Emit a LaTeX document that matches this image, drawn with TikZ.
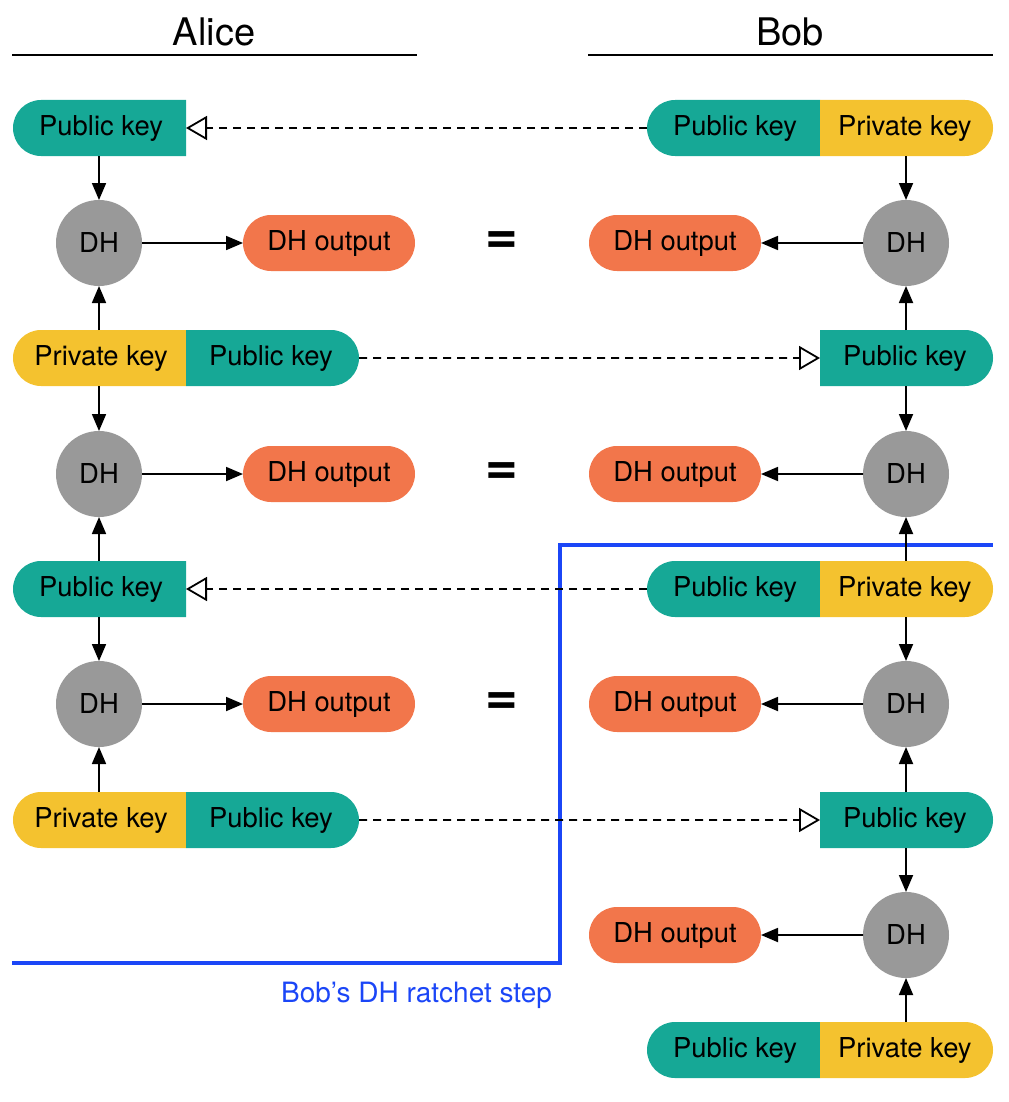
\documentclass[tikz,border=0pt]{standalone}
\usepackage{fontspec}
\setmainfont{TeX Gyre Heros}
\usetikzlibrary{shapes.misc,arrows.meta}
\definecolor{keyteal}{HTML}{16A896}
\definecolor{keyyellow}{HTML}{F4C22F}
\definecolor{outorange}{HTML}{F2764B}
\definecolor{dhgray}{HTML}{999999}
\definecolor{stepblue}{HTML}{1B46F7}
\tikzset{
  keybox/.style={rounded rectangle, minimum width=86pt, minimum height=28pt,
    inner sep=0pt, outer sep=0pt},
  pubkey/.style={keybox, fill=keyteal},
  privkey/.style={keybox, fill=keyyellow},
  lround/.style={rounded rectangle right arc=none, minimum width=86.5pt},
  rround/.style={rounded rectangle left arc=none, minimum width=86.5pt},
  dhout/.style={keybox, fill=outorange},
  dh/.style={circle, fill=dhgray, minimum size=43pt, inner sep=0pt, outer sep=0pt},
  arr/.style={line width=0.9pt, -{Triangle[length=8.5pt,width=7pt]}},
  keysend/.style={line width=0.9pt, dash pattern=on 4pt off 3pt,
    -{Triangle[open,length=10.5pt,width=12pt,line width=0.9pt]}},
  ratchet/.style={line width=2pt, stepblue},
  eqsign/.style={font=\fontsize{28}{30}\bfseries\selectfont}
}
\begin{document}
\begin{tikzpicture}[x=0.5pt,y=-0.5pt,font=\fontsize{13.7}{16}\selectfont]
\useasboundingbox (0,0) rectangle (1008,1102);
% headers
\node (alice) at (214,32) {\fontsize{19}{22}\selectfont Alice};
\node (bob) at (790,32) {\fontsize{19}{22}\selectfont Bob};
\draw[line width=1.2pt] (12,55) -- (417,55);
\draw[line width=1.2pt] (588,55) -- (993,55);

% Bob's ratchet step
\draw[ratchet] (12,963) -- (560,963) -- (560,545) -- (993,545);
\node[text=stepblue, anchor=east, font=\fontsize{14}{16}\selectfont] (step) at (559,995) {Bob's DH ratchet step};

% Alice
\node[pubkey,lround,anchor=west] (apub1) at (13,128) {Public key};
\node[privkey,lround,anchor=west] (apriv2) at (13,358) {Private key};
\node[pubkey,rround,anchor=west] (apub2) at (apriv2.east) {Public key};
\node[pubkey,lround,anchor=west] (apub3) at (13,589) {Public key};
\node[privkey,lround,anchor=west] (apriv4) at (13,820) {Private key};
\node[pubkey,rround,anchor=west] (apub4) at (apriv4.east) {Public key};
\foreach \i/\y in {1/243,2/474,3/704}
{
  \node[dh] (adh\i) at (99,\y) {DH};
  \node[dhout] (aout\i) at (329,\y) {DH output};
  \node[eqsign] (eq\i) at (502,\y) {=};
  \draw[arr] (adh\i) -- (aout\i);
}

% Bob
\node[pubkey,lround,anchor=east] (bpub1) at (820,128) {Public key};
\node[privkey,rround,anchor=west] (bpriv1) at (bpub1.east) {Private key};
\node[pubkey,rround,anchor=west] (bpub2) at (820,358) {Public key};
\node[pubkey,lround,anchor=east] (bpub3) at (820,589) {Public key};
\node[privkey,rround,anchor=west] (bpriv3) at (bpub3.east) {Private key};
\node[pubkey,rround,anchor=west] (bpub4) at (820,820) {Public key};
\node[pubkey,lround,anchor=east] (bpub5) at (820,1050) {Public key};
\node[privkey,rround,anchor=west] (bpriv5) at (bpub5.east) {Private key};
\foreach \i/\y in {1/243,2/474,3/704,4/935}
{
  \node[dh] (bdh\i) at (906,\y) {DH};
  \node[dhout] (bout\i) at (675,\y) {DH output};
  \draw[arr] (bdh\i) -- (bout\i);
}

% key flow
\draw[arr] (adh1 |- apub1.south) -- (adh1);
\draw[arr] (adh1 |- apriv2.north) -- (adh1);
\draw[arr] (adh2 |- apriv2.south) -- (adh2);
\draw[arr] (adh2 |- apub3.north) -- (adh2);
\draw[arr] (adh3 |- apub3.south) -- (adh3);
\draw[arr] (adh3 |- apriv4.north) -- (adh3);
\draw[arr] (bdh1 |- bpriv1.south) -- (bdh1);
\draw[arr] (bdh1 |- bpub2.north) -- (bdh1);
\draw[arr] (bdh2 |- bpub2.south) -- (bdh2);
\draw[arr] (bdh2 |- bpriv3.north) -- (bdh2);
\draw[arr] (bdh3 |- bpriv3.south) -- (bdh3);
\draw[arr] (bdh3 |- bpub4.north) -- (bdh3);
\draw[arr] (bdh4 |- bpub4.south) -- (bdh4);
\draw[arr] (bdh4 |- bpriv5.north) -- (bdh4);

% public keys sent
\draw[keysend] (bpub1) -- (apub1);
\draw[keysend] (apub2) -- (bpub2);
\draw[keysend] (bpub3) -- (apub3);
\draw[keysend] (apub4) -- (bpub4);
\end{tikzpicture}
\end{document}
